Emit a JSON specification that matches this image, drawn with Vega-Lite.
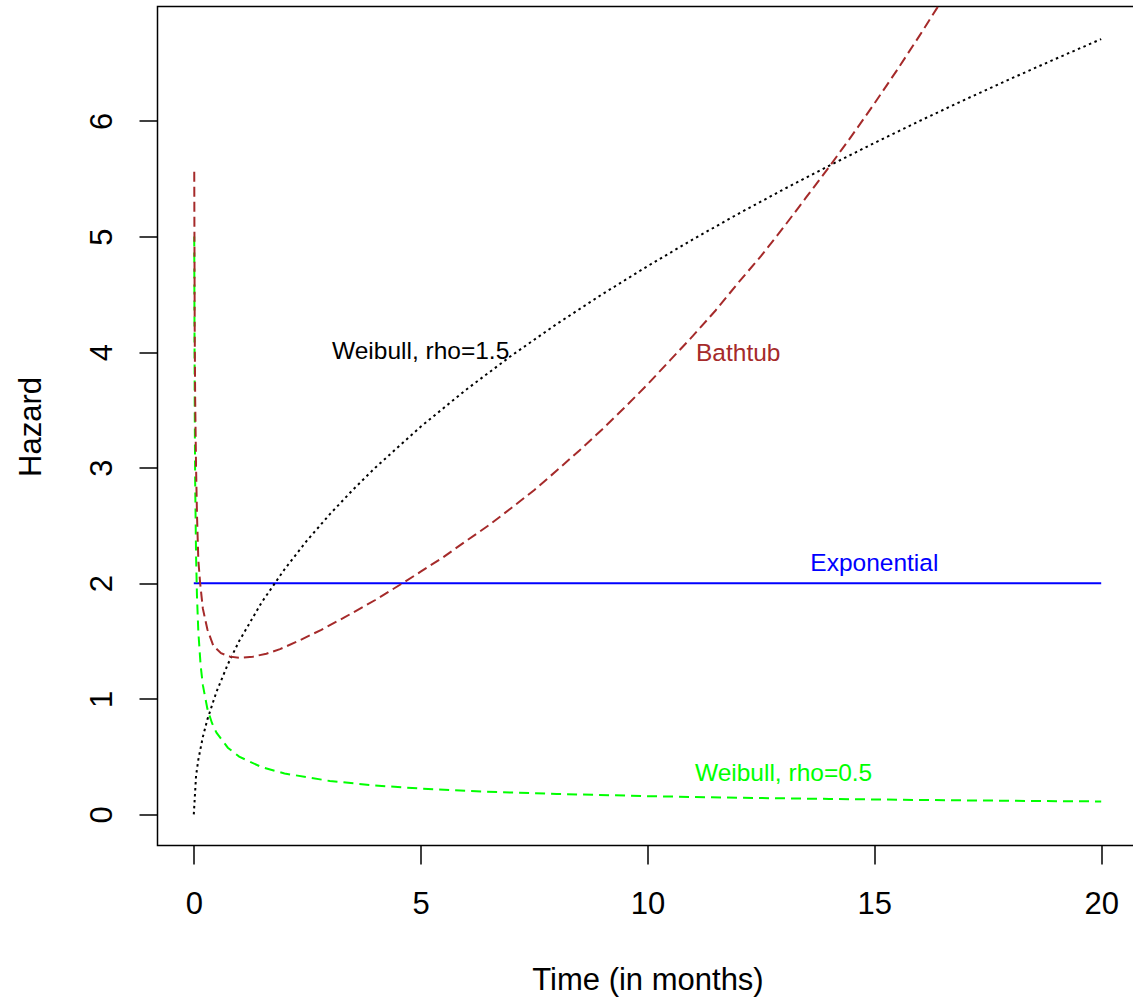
{
  "$schema": "https://vega.github.io/schema/vega-lite/v6.json",
  "autosize": {"type": "none"},
  "width": 980,
  "height": 839,
  "padding": {"left": 157.5, "top": 6.5, "right": 0, "bottom": 155.5},
  "background": "white",
  "config": {
    "view": {"stroke": "#000", "strokeWidth": 1.5},
    "font": "Liberation Sans",
    "axis": {
      "grid": false,
      "domain": false,
      "tickColor": "#000",
      "tickWidth": 1.5,
      "tickSize": 18.5,
      "labelFont": "Liberation Sans",
      "labelFontSize": 31,
      "labelColor": "#000",
      "labelFlush": false,
      "labelOverlap": false,
      "titleFont": "Liberation Sans",
      "titleFontSize": 31,
      "titleFontWeight": "normal",
      "titleColor": "#000"
    }
  },
  "datasets": {
    "curves": [
      {"series": "w15", "t": 0, "h": 0},
      {"series": "w15", "t": 0.05, "h": 0.335},
      {"series": "w15", "t": 0.1, "h": 0.474},
      {"series": "w15", "t": 0.2, "h": 0.671},
      {"series": "w15", "t": 0.3, "h": 0.822},
      {"series": "w15", "t": 0.5, "h": 1.061},
      {"series": "w15", "t": 0.75, "h": 1.299},
      {"series": "w15", "t": 1, "h": 1.5},
      {"series": "w15", "t": 1.5, "h": 1.837},
      {"series": "w15", "t": 2, "h": 2.121},
      {"series": "w15", "t": 2.5, "h": 2.372},
      {"series": "w15", "t": 3, "h": 2.598},
      {"series": "w15", "t": 3.5, "h": 2.806},
      {"series": "w15", "t": 4, "h": 3.0},
      {"series": "w15", "t": 5, "h": 3.354},
      {"series": "w15", "t": 6, "h": 3.674},
      {"series": "w15", "t": 7, "h": 3.969},
      {"series": "w15", "t": 8, "h": 4.243},
      {"series": "w15", "t": 9, "h": 4.5},
      {"series": "w15", "t": 10, "h": 4.743},
      {"series": "w15", "t": 11, "h": 4.975},
      {"series": "w15", "t": 12, "h": 5.196},
      {"series": "w15", "t": 13, "h": 5.408},
      {"series": "w15", "t": 14, "h": 5.612},
      {"series": "w15", "t": 15, "h": 5.809},
      {"series": "w15", "t": 16, "h": 6.0},
      {"series": "w15", "t": 17, "h": 6.185},
      {"series": "w15", "t": 18, "h": 6.364},
      {"series": "w15", "t": 19, "h": 6.538},
      {"series": "w15", "t": 20, "h": 6.708},
      {"series": "w05", "t": 0.01, "h": 5.0},
      {"series": "w05", "t": 0.02, "h": 3.536},
      {"series": "w05", "t": 0.03, "h": 2.887},
      {"series": "w05", "t": 0.05, "h": 2.236},
      {"series": "w05", "t": 0.07, "h": 1.89},
      {"series": "w05", "t": 0.1, "h": 1.581},
      {"series": "w05", "t": 0.15, "h": 1.291},
      {"series": "w05", "t": 0.2, "h": 1.118},
      {"series": "w05", "t": 0.3, "h": 0.913},
      {"series": "w05", "t": 0.4, "h": 0.791},
      {"series": "w05", "t": 0.5, "h": 0.707},
      {"series": "w05", "t": 0.75, "h": 0.577},
      {"series": "w05", "t": 1, "h": 0.5},
      {"series": "w05", "t": 1.5, "h": 0.408},
      {"series": "w05", "t": 2, "h": 0.354},
      {"series": "w05", "t": 3, "h": 0.289},
      {"series": "w05", "t": 4, "h": 0.25},
      {"series": "w05", "t": 5, "h": 0.224},
      {"series": "w05", "t": 6, "h": 0.204},
      {"series": "w05", "t": 7, "h": 0.189},
      {"series": "w05", "t": 8, "h": 0.177},
      {"series": "w05", "t": 10, "h": 0.158},
      {"series": "w05", "t": 12, "h": 0.144},
      {"series": "w05", "t": 14, "h": 0.134},
      {"series": "w05", "t": 16, "h": 0.125},
      {"series": "w05", "t": 18, "h": 0.118},
      {"series": "w05", "t": 20, "h": 0.112},
      {"series": "exp", "t": 0, "h": 2},
      {"series": "exp", "t": 20, "h": 2},
      {"series": "bath", "t": 0.01, "h": 5.56},
      {"series": "bath", "t": 0.02, "h": 4.2},
      {"series": "bath", "t": 0.03, "h": 3.6},
      {"series": "bath", "t": 0.05, "h": 3.0},
      {"series": "bath", "t": 0.07, "h": 2.6},
      {"series": "bath", "t": 0.1, "h": 2.2},
      {"series": "bath", "t": 0.14, "h": 2.0},
      {"series": "bath", "t": 0.2, "h": 1.78},
      {"series": "bath", "t": 0.3, "h": 1.6},
      {"series": "bath", "t": 0.43, "h": 1.46},
      {"series": "bath", "t": 0.6, "h": 1.395},
      {"series": "bath", "t": 0.8, "h": 1.365},
      {"series": "bath", "t": 1.0, "h": 1.355},
      {"series": "bath", "t": 1.3, "h": 1.365},
      {"series": "bath", "t": 1.6, "h": 1.39},
      {"series": "bath", "t": 1.9, "h": 1.43},
      {"series": "bath", "t": 2.3, "h": 1.50},
      {"series": "bath", "t": 2.8, "h": 1.595},
      {"series": "bath", "t": 3.3, "h": 1.70},
      {"series": "bath", "t": 4, "h": 1.855},
      {"series": "bath", "t": 4.62, "h": 2.005},
      {"series": "bath", "t": 5, "h": 2.1},
      {"series": "bath", "t": 5.5, "h": 2.226},
      {"series": "bath", "t": 6, "h": 2.365},
      {"series": "bath", "t": 6.5, "h": 2.501},
      {"series": "bath", "t": 7, "h": 2.651},
      {"series": "bath", "t": 7.5, "h": 2.805},
      {"series": "bath", "t": 8, "h": 2.975},
      {"series": "bath", "t": 8.5, "h": 3.149},
      {"series": "bath", "t": 9, "h": 3.331},
      {"series": "bath", "t": 9.5, "h": 3.522},
      {"series": "bath", "t": 10, "h": 3.72},
      {"series": "bath", "t": 10.5, "h": 3.93},
      {"series": "bath", "t": 11, "h": 4.14},
      {"series": "bath", "t": 11.5, "h": 4.36},
      {"series": "bath", "t": 12, "h": 4.6},
      {"series": "bath", "t": 12.5, "h": 4.83},
      {"series": "bath", "t": 13, "h": 5.08},
      {"series": "bath", "t": 13.5, "h": 5.34},
      {"series": "bath", "t": 14, "h": 5.6},
      {"series": "bath", "t": 14.5, "h": 5.87},
      {"series": "bath", "t": 15, "h": 6.15},
      {"series": "bath", "t": 15.5, "h": 6.44},
      {"series": "bath", "t": 16, "h": 6.74},
      {"series": "bath", "t": 16.5, "h": 7.05}
    ],
    "labels": [
      {"label": "Weibull, rho=1.5", "t": 5, "h": 4.0, "col": "#000000"},
      {"label": "Bathtub", "t": 12, "h": 3.98, "col": "#A52A2A"},
      {"label": "Exponential", "t": 15, "h": 2.17, "col": "#0000FF"},
      {"label": "Weibull, rho=0.5", "t": 13, "h": 0.35, "col": "#00FF00"}
    ]
  },
  "layer": [
    {
      "data": {"name": "curves"},
      "transform": [{"filter": "datum.series === 'exp'"}],
      "mark": {"type": "line", "stroke": "#0000FF", "strokeWidth": 2, "clip": true},
      "encoding": {
        "x": {
          "field": "t", "type": "quantitative",
          "scale": {"domain": [-0.8, 20.8], "nice": false, "zero": false},
          "axis": {"values": [0, 5, 10, 15, 20], "format": "d", "title": "Time (in months)", "labelPadding": 25, "titleY": 144, "titleBaseline": "alphabetic"}
        },
        "y": {
          "field": "h", "type": "quantitative",
          "scale": {"domain": [-0.269, 6.99], "nice": false, "zero": false},
          "axis": {"values": [0, 1, 2, 3, 4, 5, 6], "format": "d", "title": "Hazard", "labelAngle": -90, "labelAlign": "center", "labelBaseline": "bottom", "labelPadding": 21, "titleAngle": -90, "titleX": -117, "titleY": 420, "titleBaseline": "alphabetic", "titleAlign": "center"}
        }
      }
    },
    {
      "data": {"name": "curves"},
      "transform": [{"filter": "datum.series === 'w15'"}],
      "mark": {"type": "line", "stroke": "#000000", "strokeWidth": 2, "strokeDash": [2.5, 3.5], "clip": true},
      "encoding": {
        "x": {"field": "t", "type": "quantitative"},
        "y": {"field": "h", "type": "quantitative"}
      }
    },
    {
      "data": {"name": "curves"},
      "transform": [{"filter": "datum.series === 'w05'"}],
      "mark": {"type": "line", "stroke": "#00FF00", "strokeWidth": 2, "strokeDash": [10, 6], "clip": true},
      "encoding": {
        "x": {"field": "t", "type": "quantitative"},
        "y": {"field": "h", "type": "quantitative"}
      }
    },
    {
      "data": {"name": "curves"},
      "transform": [{"filter": "datum.series === 'bath'"}],
      "mark": {"type": "line", "stroke": "#A52A2A", "strokeWidth": 2, "strokeDash": [10, 5], "clip": true},
      "encoding": {
        "x": {"field": "t", "type": "quantitative"},
        "y": {"field": "h", "type": "quantitative"}
      }
    },
    {
      "data": {"name": "labels"},
      "mark": {"type": "text", "fontSize": 24.5, "font": "Liberation Sans", "align": "center", "baseline": "middle"},
      "encoding": {
        "x": {"field": "t", "type": "quantitative"},
        "y": {"field": "h", "type": "quantitative"},
        "text": {"field": "label"},
        "color": {"field": "col", "type": "nominal", "scale": null}
      }
    }
  ]
}
